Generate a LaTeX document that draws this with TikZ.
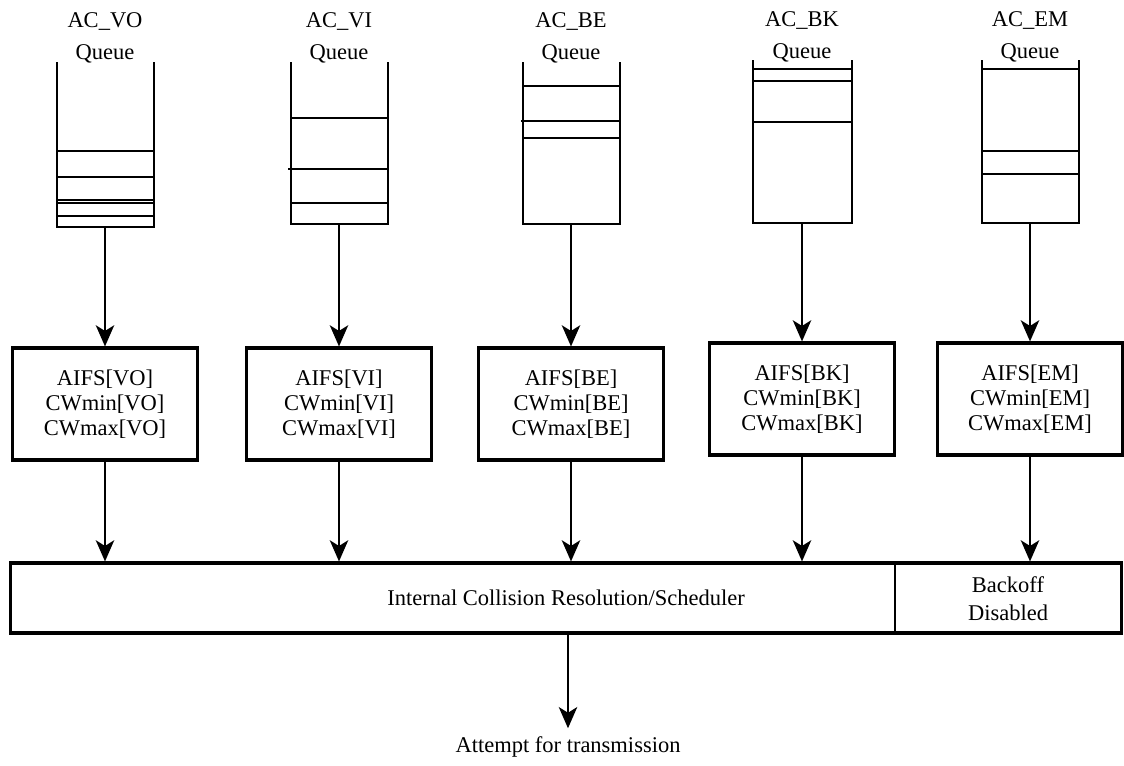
\documentclass[tikz,border=0pt]{standalone}
\usepackage{fontspec}
\setmainfont{Liberation Serif}
\usetikzlibrary{arrows.meta,positioning}
\tikzset{every picture/.style={line width=0.75pt}}
\tikzset{
  qlabel/.style={align=center,inner sep=0pt,font=\fontsize{16}{22.7}\selectfont},
  parambox/.style={draw,line width=2.2pt,minimum width=4.62cm,minimum height=2.8cm,
    align=center,inner sep=0pt,font=\fontsize{16}{17.7}\selectfont},
  flow/.style={-{Stealth[length=15pt,width=13pt,inset=4pt]},line width=2pt},
}

\begin{document}
\begin{tikzpicture}[x=0.025cm,y=-0.025cm]
    \useasboundingbox (0,0) rectangle (1124,765);
    % 队列标签
    \node[qlabel] (lVO) at (105,38) {AC\_VO\\Queue};
    \node[qlabel] (lVI) at (339,38) {AC\_VI\\Queue};
    \node[qlabel] (lBE) at (571,38) {AC\_BE\\Queue};
    \node[qlabel] (lBK) at (802,37) {AC\_BK\\Queue};
    \node[qlabel] (lEM) at (1030,37) {AC\_EM\\Queue};
    % 队列
    \draw (57,62) |- (154,227) -- (154,62);
    \draw (57,151) -- (154,151) (57,177) -- (154,177) (57,200) -- (154,200)
          (57,203) -- (154,203) (57,216) -- (154,216);
    \coordinate (qVO) at (105,227);
    \draw (291,62) |- (388,224) -- (388,62);
    \draw (291,118) -- (388,118) (288,169) -- (388,169) (291,203) -- (388,203);
    \coordinate (qVI) at (339,224);
    \draw (523,62) |- (620,224) -- (620,62);
    \draw (523,86) -- (620,86) (521,121) -- (620,121) (523,138) -- (620,138);
    \coordinate (qBE) at (571,224);
    \draw (753,60) |- (852,223) -- (852,60);
    \draw (753,69) -- (852,69) (753,81) -- (852,81) (753,122) -- (852,122);
    \coordinate (qBK) at (802,223);
    \draw (982,60) |- (1079,223) -- (1079,60);
    \draw (982,69) -- (1079,69) (982,151) -- (1079,151) (982,174) -- (1079,174);
    \coordinate (qEM) at (1030,223);
    % 参数框
    \node[parambox] (pVO) at (105,404) {AIFS[VO]\\CWmin[VO]\\CWmax[VO]};
    \node[parambox] (pVI) at (339,404) {AIFS[VI]\\CWmin[VI]\\CWmax[VI]};
    \node[parambox] (pBE) at (571,404) {AIFS[BE]\\CWmin[BE]\\CWmax[BE]};
    \node[parambox] (pBK) at (802,399) {AIFS[BK]\\CWmin[BK]\\CWmax[BK]};
    \node[parambox] (pEM) at (1030,399) {AIFS[EM]\\CWmin[EM]\\CWmax[EM]};
    % 调度器
    \node[draw,line width=2.2pt,minimum width=27.75cm,minimum height=1.75cm,inner sep=0pt,
          font=\fontsize{16}{18}\selectfont] (sched) at (566,598)
          {Internal Collision Resolution/Scheduler};
    \draw[line width=1.2pt] (sched.north -| 895,0) -- (sched.south -| 895,0);
    \node[qlabel,font=\fontsize{16}{19.8}\selectfont] (boff) at (1008,599) {Backoff\\Disabled};
    \node[inner sep=0pt,outer sep=6pt,font=\fontsize{16}{18}\selectfont] (out) at (568,747)
          {Attempt for transmission};
    % 箭头
    \draw[flow] (qVO) -- (pVO);
    \draw[flow] (qVI) -- (pVI);
    \draw[flow] (qBE) -- (pBE);
    \draw[flow] (qBK) -- (pBK);
    \draw[flow] (qEM) -- (pEM);
    \draw[flow] (pVO) -- (pVO |- sched.north);
    \draw[flow] (pVI) -- (pVI |- sched.north);
    \draw[flow] (pBE) -- (pBE |- sched.north);
    \draw[flow] (pBK) -- (pBK |- sched.north);
    \draw[flow] (pEM) -- (pEM |- sched.north);
    \draw[flow] (sched.south -| out.north) -- (out.north);
\end{tikzpicture}
\end{document}
